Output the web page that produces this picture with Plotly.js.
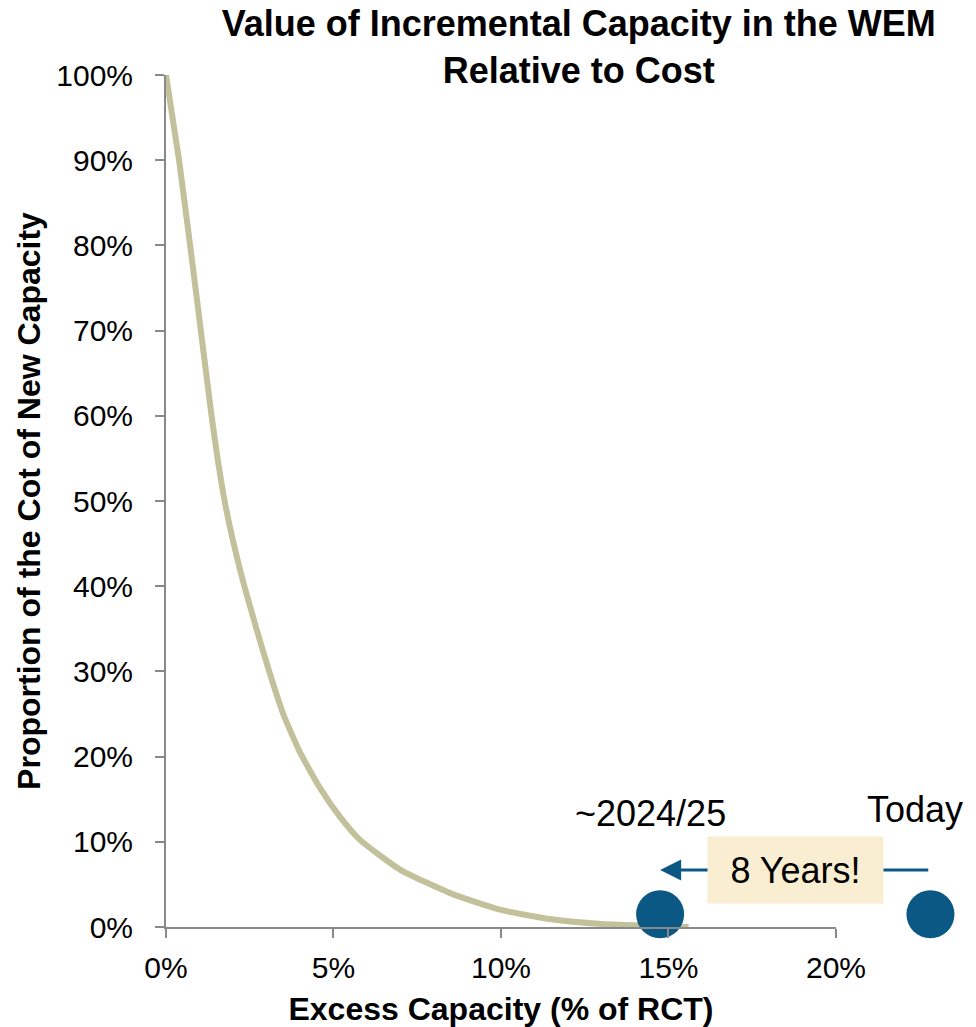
<!DOCTYPE html>
<html>
<head>
<meta charset="utf-8">
<script src="https://cdn.plot.ly/plotly-3.0.1.min.js"></script>
<style>
html,body{margin:0;padding:0;background:#fff;}
#chart{width:976px;height:1027px;}
</style>
</head>
<body>
<div id="chart"></div>
<script>
// Curve: excess capacity (% of RCT) vs proportion of cost of new capacity
const excessCapacity = [0, 0.39, 0.72, 1.04, 1.36, 1.54, 1.75, 2.02, 2.34, 2.70, 3.08, 3.50, 4.0, 4.6, 5.2, 5.8, 7.0, 8.5, 10.0, 11.5, 13.0, 14.5, 15.6];
const proportionOfCost = [100, 90, 80, 70, 60, 55, 50, 45, 40, 35, 30, 25, 20.5, 16.3, 12.9, 10.2, 6.7, 3.95, 2.0, 0.9, 0.35, 0.12, 0.0];

// Milestone dots (excess capacity %, proportion %)
const milestoneLabels = ["~2024/25", "Today"];
const milestoneX = [14.75, 22.82];
const milestoneY = [1.5, 1.5];

// Arrow between milestones
const arrowHeadX = 14.75, arrowTailX = 22.8, arrowY = 6.7;
const arrowLabel = "8 Years!";

const xTickVals = [0, 5, 10, 15, 20];
const xTickText = ["0%", "5%", "10%", "15%", "20%"];
const yTickVals = [0, 10, 20, 30, 40, 50, 60, 70, 80, 90, 100];
const yTickText = ["0%", "10%", "20%", "30%", "40%", "50%", "60%", "70%", "80%", "90%", "100%"];

const FONT = "Arial, 'Liberation Sans', sans-serif";
const BLUE = "#0B5885";

// main axis covers 0-20%, a hidden continuation axis covers the area to the right
const X_MAIN_MAX = 20, X_EXT_MAX = 24.18;
const splitFrac = X_MAIN_MAX / X_EXT_MAX;

const traces = [
  {
    x: excessCapacity, y: proportionOfCost,
    type: "scatter", mode: "lines", xaxis: "x", yaxis: "y",
    line: {color: "#C3C19B", width: 6, shape: "spline", smoothing: 0.5},
    hoverinfo: "skip", showlegend: false
  },
  {
    x: [milestoneX[0]], y: [milestoneY[0]],
    type: "scatter", mode: "markers", xaxis: "x", yaxis: "y",
    marker: {color: BLUE, size: 48, symbol: "circle"},
    cliponaxis: false, hoverinfo: "skip", showlegend: false
  },
  {
    x: [milestoneX[1]], y: [milestoneY[1]],
    type: "scatter", mode: "markers", xaxis: "x2", yaxis: "y",
    marker: {color: BLUE, size: 48, symbol: "circle"},
    cliponaxis: false, hoverinfo: "skip", showlegend: false
  }
];

const layout = {
  width: 976, height: 1027,
  margin: {l: 166, r: 0, t: 75, b: 100},
  paper_bgcolor: "#fff", plot_bgcolor: "#fff",
  font: {family: FONT, color: "#000"},
  showlegend: false,
  title: {
    text: "<b>Value of Incremental Capacity in the WEM<br>Relative to Cost</b>",
    font: {family: FONT, size: 36, color: "#000"},
    xref: "container", x: 0.593, xanchor: "center",
    yref: "container", y: 0.965, yanchor: "middle"
  },
  xaxis: {
    domain: [0, splitFrac], anchor: "y",
    range: [0, X_MAIN_MAX], fixedrange: true,
    tickvals: xTickVals, ticktext: xTickText,
    ticks: "outside", ticklen: 9, tickwidth: 2, tickcolor: "#898989",
    showline: true, linecolor: "#898989", linewidth: 2,
    showgrid: false, zeroline: false,
    tickfont: {family: FONT, size: 30, color: "#000"},
    ticklabelstandoff: 4,
    title: {text: "<b>Excess Capacity (% of RCT)</b>", font: {family: FONT, size: 32, color: "#000"}, standoff: 17}
  },
  xaxis2: {
    domain: [splitFrac, 1], anchor: "y",
    range: [X_MAIN_MAX, X_EXT_MAX], fixedrange: true,
    visible: false, showgrid: false, zeroline: false
  },
  yaxis: {
    domain: [0, 1], anchor: "x",
    range: [0, 100], fixedrange: true,
    tickvals: yTickVals, ticktext: yTickText,
    ticks: "outside", ticklen: 9, tickwidth: 2, tickcolor: "#898989",
    showline: true, linecolor: "#898989", linewidth: 2,
    showgrid: false, zeroline: false,
    tickfont: {family: FONT, size: 30, color: "#000"},
    ticklabelstandoff: 16,
    title: {text: "<b>Proportion of the Cot of New Capacity</b>", font: {family: FONT, size: 32, color: "#000"}, standoff: 6}
  },
  annotations: [
    {
      xref: "x", yref: "y", x: arrowHeadX, y: arrowY,
      axref: "x", ayref: "y", ax: arrowTailX, ay: arrowY,
      text: "", showarrow: true, arrowhead: 2, arrowsize: 1.4, arrowwidth: 3,
      arrowcolor: BLUE, standoff: 0, startstandoff: 0
    },
    {
      xref: "paper", yref: "paper", x: (795 - 166) / 810, y: 0.0669,
      xanchor: "center", yanchor: "middle",
      text: arrowLabel, showarrow: false,
      font: {family: FONT, size: 36, color: "#000"},
      bgcolor: "#FAEED2", width: 175, height: 66, borderpad: 0
    },
    {
      xref: "paper", yref: "paper", x: (650 - 166) / 810, y: 0.1335,
      xanchor: "center", yanchor: "middle",
      text: milestoneLabels[0], showarrow: false,
      font: {family: FONT, size: 36, color: "#000"}
    },
    {
      xref: "paper", yref: "paper", x: (915 - 166) / 810, y: 0.138,
      xanchor: "center", yanchor: "middle",
      text: milestoneLabels[1], showarrow: false,
      font: {family: FONT, size: 36, color: "#000"}
    }
  ]
};

Plotly.newPlot("chart", traces, layout, {staticPlot: true, displayModeBar: false});
</script>
</body>
</html>
